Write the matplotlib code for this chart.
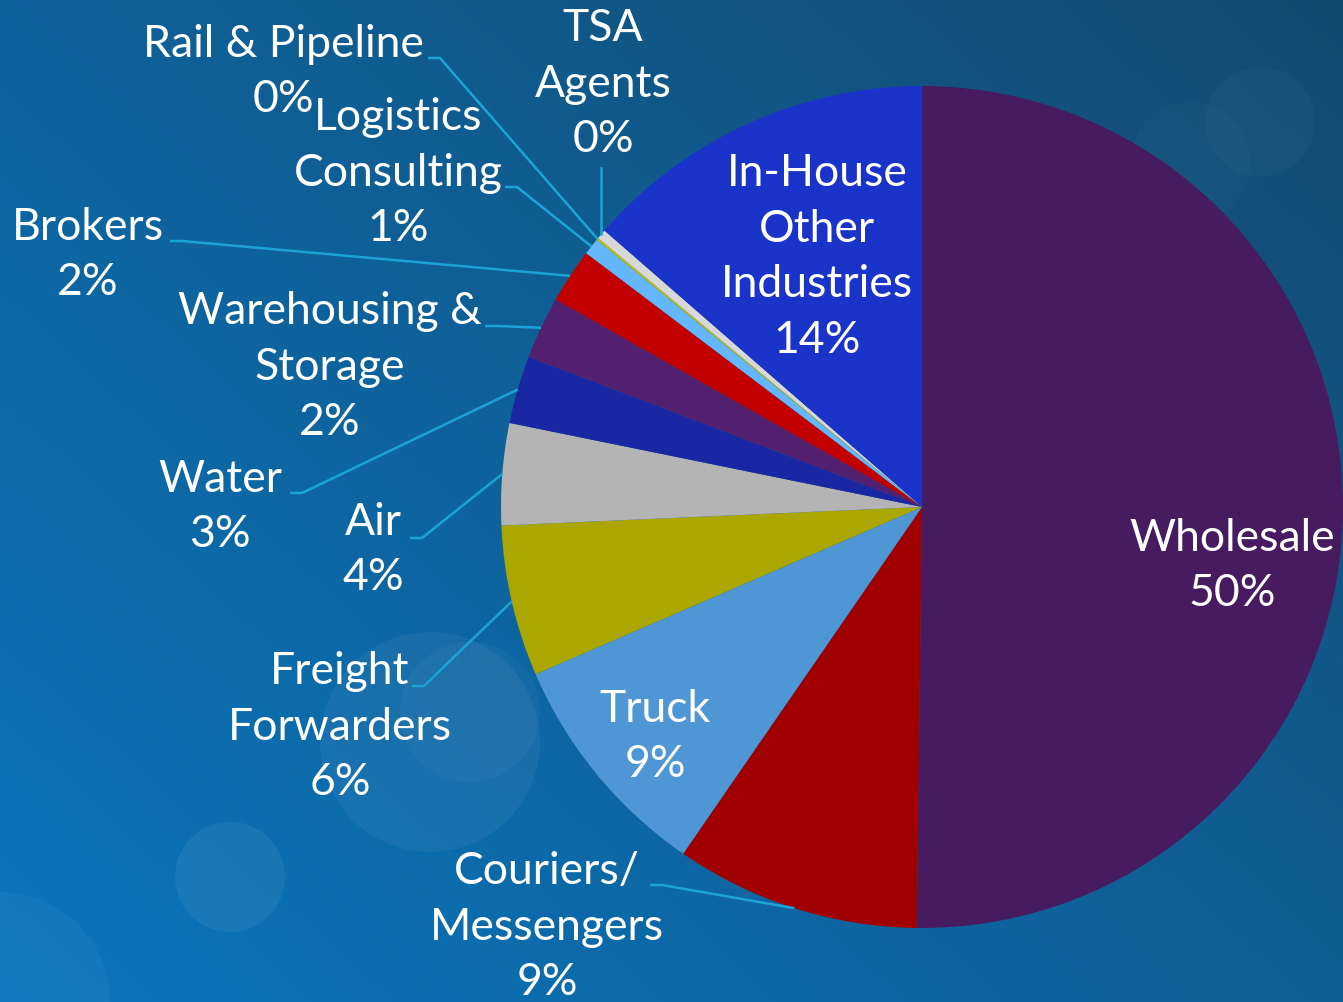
import numpy as np
import matplotlib
matplotlib.use("Agg")
import matplotlib.pyplot as plt
from matplotlib.colors import to_rgb
from matplotlib.patches import Circle

# ---- data ----
categories = ["Wholesale", "Couriers/\nMessengers", "Truck", "Freight\nForwarders", "Air", "Water",
              "Warehousing &\nStorage", "Brokers", "Logistics\nConsulting", "Rail & Pipeline",
              "TSA\nAgents", "In-House\nOther\nIndustries"]
shares = [50.2, 9.4, 8.9, 5.8, 3.9, 2.6, 2.4, 2.1, 0.65, 0.08, 0.37, 13.6]
colors = ["#471b60", "#a00000", "#4f97d4", "#aca700", "#b4b4b4", "#1a27a3",
          "#532070", "#c20000", "#64b7fb", "#c8c000", "#d8d8d8", "#1a33c9"]

W, H = 1343, 1002
fig = plt.figure(figsize=(W / 100, H / 100), dpi=100)
ax = fig.add_axes([0, 0, 1, 1])

# ---- background gradient ----
xx, yy = np.meshgrid(np.linspace(0, 1, 300), np.linspace(0, 1, 240))  # yy: 0 bottom .. 1 top
t = np.clip(0.55 * xx + 0.45 * yy, 0, 1)
c0 = np.array(to_rgb("#0a76be"))
c1 = np.array(to_rgb("#144a70"))
img = c0[None, None, :] * (1 - t[..., None]) + c1[None, None, :] * t[..., None]
ax.imshow(img, extent=(0, W, 0, H), origin="lower", zorder=0, aspect="auto")

# faint bokeh circles
for (cx, cy, r, a) in [(430, 260, 110, 0.05), (470, 290, 70, 0.03), (230, 125, 55, 0.06),
                       (0, 0, 110, 0.04), (1260, 880, 55, 0.025), (1190, 840, 60, 0.02)]:
    ax.add_patch(Circle((cx, cy), r, facecolor="white", alpha=a, edgecolor="none", zorder=1))

# ---- pie ----
center = (922, H - 507)
radius = 421
wedges, _ = ax.pie(shares, colors=colors, startangle=90, counterclock=False,
                   center=center, radius=radius, wedgeprops=dict(linewidth=0))
for w in wedges:
    w.set_zorder(2)
ax.set_xlim(0, W)
ax.set_ylim(0, H)
ax.set_aspect("equal")
ax.axis("off")

labels = [f"{c}\n{round(s):d}%" for c, s in zip(categories, shares)]

font = dict(family="Lato", fontsize=32, color="white", linespacing=1.45, ha="center", va="center")

# label positions in pixel layout (x from left, y from top), leader elbow (None if inside)
layout = {
    0: ((1232, 566), None),
    1: ((547, 927), (650, 885)),
    2: ((655, 737), None),
    3: ((340, 727), (412, 686)),
    4: ((373, 550), (410, 538)),
    5: ((220, 507), (290, 493)),
    6: ((330, 367), (485, 326)),
    7: ((88, 255), (170, 241)),
    8: ((398, 173), (505, 187)),
    9: ((283, 72), (428, 58)),
    10: ((603, 84), None),
    11: ((817, 257), None),
}

line_col = "#1ba3d6"
for i, w in enumerate(wedges):
    (lx, ly), elbow = layout[i]
    ax.text(lx, H - ly, labels[i], zorder=5, **font)
    mid = np.deg2rad((w.theta1 + w.theta2) / 2)
    ex = center[0] + radius * np.cos(mid)
    ey = center[1] + radius * np.sin(mid)
    if elbow is not None:
        bx, by = elbow
        ax.plot([bx, bx + 12, ex], [H - by, H - by, ey], color=line_col, lw=1.8, zorder=3,
                solid_capstyle="butt")
    elif i == 10:
        ax.plot([ex, ex], [H - 168, ey], color=line_col, lw=1.8, zorder=3)

fig.savefig("out.png", dpi=100)
